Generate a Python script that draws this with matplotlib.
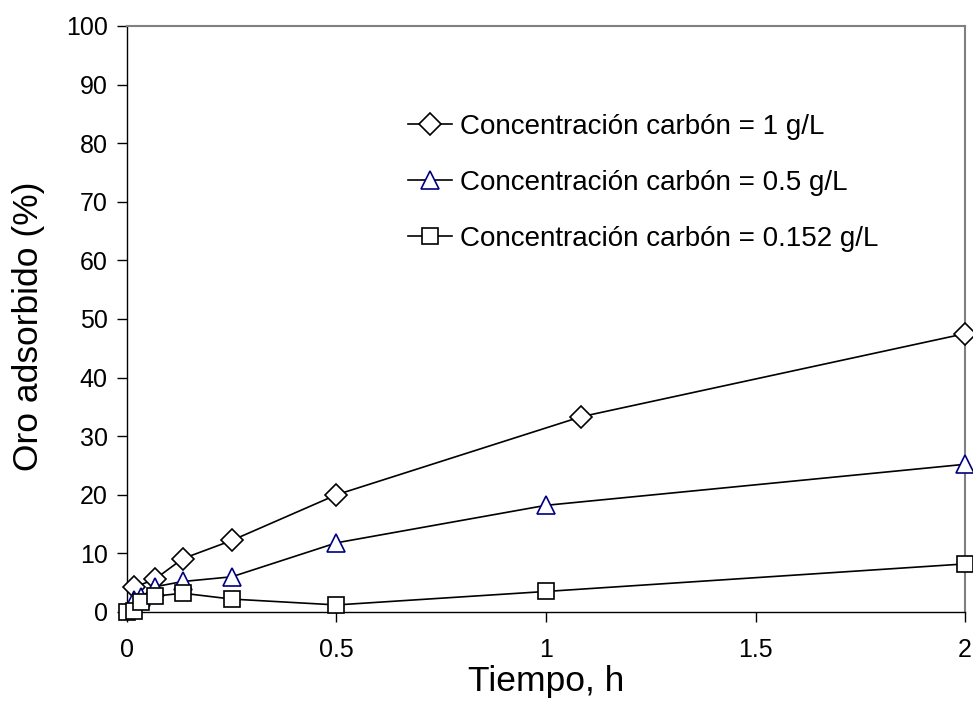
import matplotlib
matplotlib.use('Agg')
import matplotlib.pyplot as plt

plt.rcParams['font.family'] = ['Liberation Sans', 'DejaVu Sans']

# tiempo (h) y oro adsorbido (%)
t_1 = [0.0167, 0.0667, 0.1333, 0.25, 0.5, 1.083, 2.0]
oro_1 = [4.2, 5.6, 9.1, 12.2, 20.0, 33.3, 47.5]

t_05 = [0.0167, 0.0333, 0.0667, 0.1333, 0.25, 0.5, 1.0, 2.0]
oro_05 = [2.0, 2.5, 4.3, 5.2, 6.0, 11.8, 18.2, 25.2]

t_0152 = [0.0, 0.0167, 0.0333, 0.0667, 0.1333, 0.25, 0.5, 1.0, 2.0]
oro_0152 = [0.0, 0.2, 1.7, 2.7, 3.2, 2.2, 1.2, 3.5, 8.2]

labels = ['Concentración carbón = 1 g/L',
          'Concentración carbón = 0.5 g/L',
          'Concentración carbón = 0.152 g/L']

fig = plt.figure(figsize=(9.73, 7.22), dpi=100)
ax = fig.add_axes([0.1305, 0.1524, 0.8613, 0.8116])

ax.plot(t_1, oro_1, color='black', lw=1.2, marker='D', ms=11,
        mfc='white', mec='black', mew=1.2, label=labels[0], clip_on=False, zorder=3)
ax.plot(t_05, oro_05, color='black', lw=1.2, marker='^', ms=13,
        mfc='white', mec='#000080', mew=1.2, label=labels[1], clip_on=False, zorder=3)
ax.plot(t_0152, oro_0152, color='black', lw=1.2, marker='s', ms=11,
        mfc='white', mec='black', mew=1.2, label=labels[2], clip_on=False, zorder=3)

ax.set_xlim(0, 2)
ax.set_ylim(0, 100)
ax.set_xticks([0, 0.5, 1, 1.5, 2])
ax.set_xticklabels(['0', '0.5', '1', '1.5', '2'])
ax.set_yticks(range(0, 101, 10))
ax.tick_params(labelsize=18, direction='out', length=7, width=1)
ax.tick_params(axis='y', pad=7)
ax.tick_params(axis='x', pad=11.5)

for s in ['top', 'right']:
    ax.spines[s].set_color('#808080')
    ax.spines[s].set_linewidth(1.5)
ax.spines['left'].set_linewidth(1)
ax.spines['bottom'].set_linewidth(1)

ax.set_xlabel('Tiempo, h', fontsize=25.5)
ax.set_ylabel('Oro adsorbido (%)', fontsize=25.5)
ax.xaxis.set_label_coords(0.5, -0.09)
ax.yaxis.set_label_coords(-0.098, 0.487)

leg = ax.legend(loc='upper left', bbox_to_anchor=(0.335, 0.85), frameon=False,
                fontsize=20, handlelength=1.6, handletextpad=0.3,
                labelspacing=1.08, borderaxespad=0, borderpad=0)

fig.savefig('out.png', dpi=100)
